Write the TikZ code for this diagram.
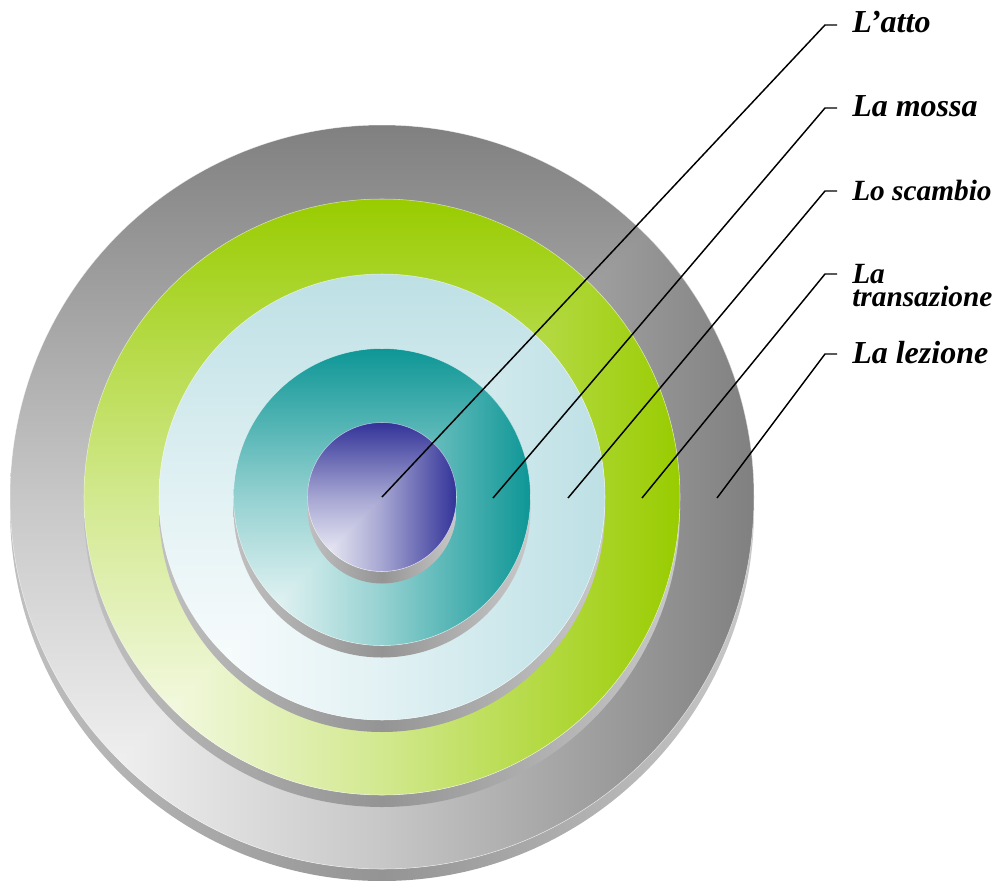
\documentclass[tikz,border=0pt]{standalone}
\usepackage{fontspec}
\setmainfont{Liberation Serif}
\definecolor{cgray}{RGB}{128,128,128}
\definecolor{cgreen}{RGB}{153,204,0}
\definecolor{clblue}{RGB}{189,224,229}
\definecolor{cteal}{RGB}{14,150,150}
\definecolor{cpurple}{RGB}{51,51,153}
\definecolor{sideL}{RGB}{192,192,192}
\definecolor{sideM}{RGB}{148,148,148}
\definecolor{sideR}{RGB}{200,200,200}
\newcommand\mydisk[2]{%
  \shade[left color=sideL, right color=sideR, middle color=sideM]
    (382,509) circle[radius={#1*0.75pt}];
  \begin{scope}
    \clip (382,497) circle[radius={#1*0.75pt}];
    \shade[top color=#2, bottom color=white, middle color=#2!44!white]
      ({382-#1},{497-#1}) rectangle ({382+#1},{497+#1});
    \shade[left color=white, right color=#2, middle color=#2!44!white]
      ({382-#1},{497+#1}) -- ({382+#1},{497+#1}) -- ({382+#1},{497-#1}) -- cycle;
  \end{scope}
  \draw[white, line width=0.4pt, opacity=0.6] (382,497) circle[radius={#1*0.75pt}];
}
\tikzset{
  lbl/.style={font=\fontsize{24}{18}\selectfont\bfseries\itshape, inner sep=0pt, anchor=base west},
  lblsmall/.style={lbl, font=\fontsize{22}{17.5}\selectfont\bfseries\itshape},
  leader/.style={black, line width=1.1pt}
}
\begin{document}
\begin{tikzpicture}[x=0.75pt, y=-0.75pt]
\useasboundingbox (0,0) rectangle (999,881);
\mydisk{372}{cgray}
\mydisk{298}{cgreen}
\mydisk{223}{clblue}
\mydisk{148.5}{cteal}
\mydisk{74.5}{cpurple}

\coordinate (e1) at (382,497);
\coordinate (e2) at (493,498);
\coordinate (e3) at (568,498);
\coordinate (e4) at (642,498);
\coordinate (e5) at (717,498);
\coordinate (k1) at (825,25);
\coordinate (k2) at (825,108);
\coordinate (k3) at (825,191);
\coordinate (k4) at (825,274);
\coordinate (k5) at (825,354);
\coordinate (d1) at (837,25);
\coordinate (d2) at (837,108);
\coordinate (d3) at (837,191);
\coordinate (d4) at (837,274);
\coordinate (d5) at (837,354);

\draw[leader] (e1) -- (k1) -- (d1);
\draw[leader] (e2) -- (k2) -- (d2);
\draw[leader] (e3) -- (k3) -- (d3);
\draw[leader] (e4) -- (k4) -- (d4);
\draw[leader] (e5) -- (k5) -- (d5);

\node[lbl] (t1) at (852,33) {L’atto};
\node[lbl] (t2) at (852,117) {La mossa};
\node[lblsmall] (t3) at (852,200) {Lo scambio};
\node[lblsmall] (t4) at (852,283) {\vtop{\baselineskip=17.5pt\hbox{La}\hbox{transazione}}};
\node[lbl] (t5) at (852,363) {La lezione};
\end{tikzpicture}
\end{document}
